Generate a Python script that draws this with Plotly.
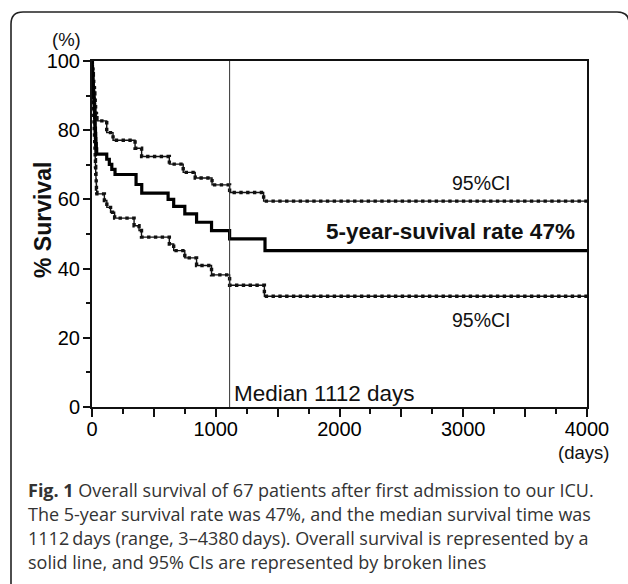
import plotly.graph_objects as go

# ---- data ----
os_days = [0, 2, 4, 6, 8, 10, 12, 14, 16, 18, 20, 22, 24, 26, 28, 30, 32, 35, 38,
           119, 140, 160, 186, 356, 402, 615, 660, 750, 845, 966, 1112, 1398, 4000]
os_surv = [100, 98.5, 97.0, 95.5, 94.0, 92.5, 91.0, 89.6, 88.1, 86.6, 85.1, 83.6, 82.1, 80.6, 79.1, 77.6, 76.1, 74.6, 73.1,
           71.6, 70.1, 68.7, 67.2, 64.3, 61.8, 60.0, 58.0, 55.8, 53.4, 51.0, 48.6, 45.2, 45.2]

up_days = [0, 3, 5, 8, 11, 14, 17, 20, 23, 26, 29, 32, 36, 40,
           119, 170, 348, 401, 625, 737, 834, 970, 1112, 1387, 4000]
up_surv = [100, 98.8, 97.6, 96.3, 95.0, 93.6, 92.2, 90.8, 89.3, 87.8, 86.3, 84.8, 83.6, 82.7,
           79.3, 77.1, 74.8, 72.4, 70.2, 67.8, 66.2, 64.2, 62.0, 59.5, 59.5]

lo_days = [0, 2, 4, 6, 8, 10, 12, 14, 16, 18, 20, 22, 24, 26, 28, 30, 32, 34, 36, 38, 40,
           100, 120, 150, 183, 340, 380, 400, 625, 660, 750, 845, 966, 1112, 1393, 4000]
lo_surv = [100, 96.5, 94.0, 91.5, 89.5, 87.5, 85.5, 83.5, 81.5, 79.5, 77.5, 75.5, 73.5, 71.5, 69.5, 67.5, 66.0, 64.5, 63.0, 62.0, 61.6,
           59.7, 57.7, 56.3, 54.6, 52.4, 51.0, 49.1, 47.1, 45.2, 43.1, 40.9, 38.2, 35.2, 32.0, 32.0]

median_day = 1112
x_tickvals = [0, 500, 1000, 1500, 2000, 2500, 3000, 3500, 4000]
x_ticktext = ["0", "", "1000", "", "2000", "", "3000", "", "4000"]
y_tickvals = [0, 20, 40, 60, 80, 100]
y_ticktext = ["0", "20", "40", "60", "80", "100"]

caption_lines = [
    "<b>Fig. 1</b> Overall survival of 67 patients after first admission to our ICU.",
    "The 5-year survival rate was 47%, and the median survival time was",
    "1112\u2009days (range, 3\u20134380\u2009days). Overall survival is represented by a",
    "solid line, and 95% CIs are represented by broken lines",
]

SANS = "Liberation Sans, Arial, Helvetica, sans-serif"
CAP = "Open Sans, Noto Sans, sans-serif"

fig = go.Figure()

for d, s in ((up_days, up_surv), (lo_days, lo_surv)):
    fig.add_trace(go.Scatter(x=d, y=s, mode="lines", line=dict(shape="hv", color="#111", width=1.4),
                             hoverinfo="skip", showlegend=False))
    fig.add_trace(go.Scatter(x=d, y=s, mode="lines", line=dict(shape="hv", color="#111", width=3.4, dash="dot"),
                             hoverinfo="skip", showlegend=False))

fig.add_trace(go.Scatter(x=os_days, y=os_surv, mode="lines",
                         line=dict(shape="hv", color="#000", width=3.2),
                         hoverinfo="skip", showlegend=False))

# median line
fig.add_trace(go.Scatter(x=[median_day, median_day], y=[0, 100], mode="lines",
                         line=dict(color="#333", width=1), hoverinfo="skip", showlegend=False))

# plot area in px: left 92, right 587, top 61, bottom 407
L, R, T, B = 92, 587, 61, 407
W, H = 628, 584


def px(xp):
    return (xp - L) / (R - L)


def py(yp):
    return (B - yp) / (B - T)


fig.update_layout(
    width=W, height=H,
    margin=dict(l=L, r=W - R, t=T, b=H - B, pad=0),
    paper_bgcolor="white", plot_bgcolor="white",
    font=dict(family=SANS, color="#111", size=18),
    xaxis=dict(range=[0, 4000], tickvals=x_tickvals, ticktext=x_ticktext,
               ticks="outside", ticklen=8, tickwidth=2, tickcolor="#111",
               minor=dict(dtick=250, tick0=0, ticks="outside", ticklen=5, tickwidth=2, tickcolor="#111"),
               showline=True, linewidth=2, linecolor="#111", mirror=True, ticklabelstandoff=-5,
               showgrid=False, zeroline=False, tickfont=dict(size=20, family=SANS, color="#000")),
    yaxis=dict(range=[0, 100], tickvals=y_tickvals, ticktext=y_ticktext,
               ticks="outside", ticklen=7, tickwidth=2, tickcolor="#111",
               minor=dict(dtick=10, tick0=0, ticks="outside", ticklen=4, tickwidth=2, tickcolor="#111"),
               showline=True, linewidth=2, linecolor="#111", mirror=True, ticklabelstandoff=-1,
               showgrid=False, zeroline=False, tickfont=dict(size=20, family=SANS, color="#000")),
)

ann = []
ann.append(dict(x=3150, y=64.7, xref="x", yref="y", text="95%CI", showarrow=False,
                xanchor="center", yanchor="middle", font=dict(size=19.5, family=SANS)))
ann.append(dict(x=3919, y=50.6, xref="x", yref="y", text="<b>5-year-suvival rate 47%</b>",
                xanchor="right", yanchor="middle", showarrow=False, font=dict(size=22.5, family=SANS)))
ann.append(dict(x=3150, y=25.1, xref="x", yref="y", text="95%CI", showarrow=False,
                xanchor="center", yanchor="middle", font=dict(size=19.5, family=SANS)))
ann.append(dict(x=median_day + 20, y=3.8, xref="x", yref="y", text="Median 1112 days",
                xanchor="left", yanchor="middle", showarrow=False, font=dict(size=22.5, family=SANS)))
ann.append(dict(x=px(66), y=py(39), xref="paper", yref="paper", text="(%)", showarrow=False,
                xanchor="center", yanchor="middle", font=dict(size=18.5, family=SANS)))
ann.append(dict(x=px(583), y=py(452), xref="paper", yref="paper", text="(days)", showarrow=False,
                xanchor="center", yanchor="middle", font=dict(size=18.5, family=SANS)))
ann.append(dict(x=px(43), y=py(220), xref="paper", yref="paper", text="<b>% Survival</b>",
                textangle=-90, xanchor="center", yanchor="middle", showarrow=False,
                font=dict(size=23, family=SANS)))
for i, line in enumerate(caption_lines):
    ann.append(dict(x=px(26), y=py(490 + 24 * i), xref="paper", yref="paper", text=line,
                    xanchor="left", yanchor="middle", showarrow=False,
                    font=dict(size=18, family=CAP, color="#333")))
fig.update_layout(annotations=ann)

# rounded outer frame (decoration)
path = ("M {a},{b} L {a},{c} Q {a},{d} {e},{d} L {f},{d} Q {g},{d} {g},{h} L {g},{b}").format(
    a=px(11), b=py(600), c=py(24), d=py(12), e=px(23), f=px(617), g=px(629), h=py(23))
fig.add_shape(type="path", path=path, xref="paper", yref="paper",
              line=dict(color="#222", width=1.6), layer="above")

fig.write_html("out.html", config={"displayModeBar": False},
               post_script="document.body.style.margin='0';document.body.style.padding='0';"
                           "document.body.style.overflow='hidden';")
